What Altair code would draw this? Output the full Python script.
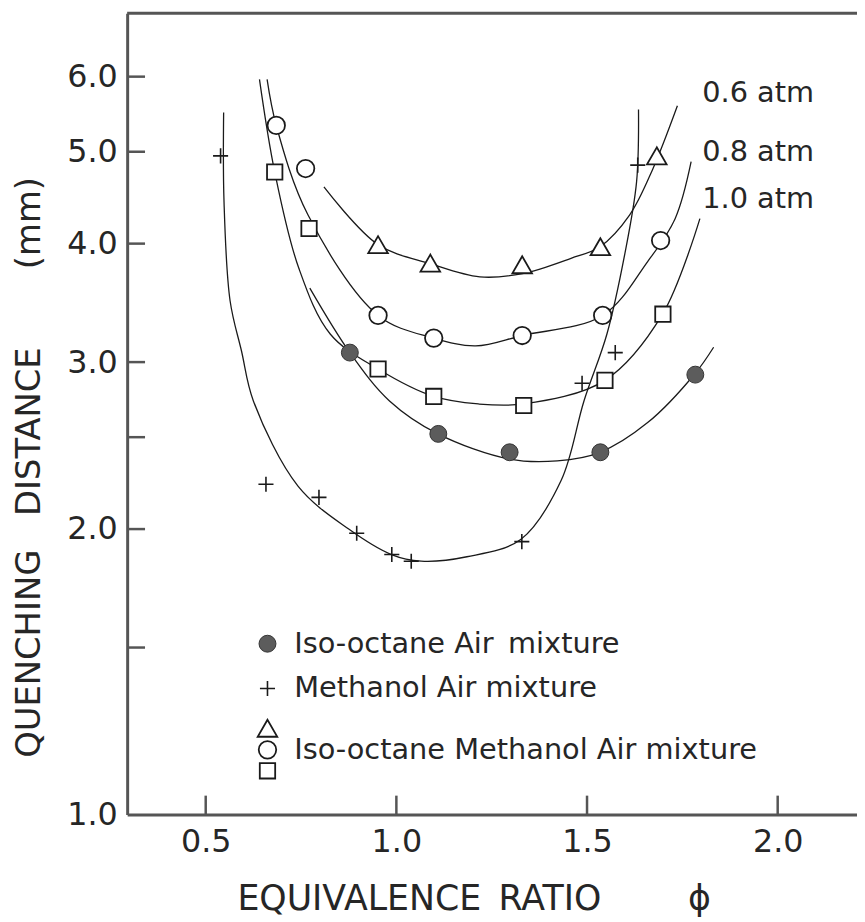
import altair as alt
import pandas as pd

# ---------------- data ----------------
# measured points
iso_x = [0.878, 1.110, 1.297, 1.535, 1.784]
iso_y = [3.07, 2.52, 2.41, 2.41, 2.91]
meth_x = [0.539, 0.658, 0.797, 0.896, 0.988, 1.039, 1.329, 1.487, 1.574, 1.633]
meth_y = [4.95, 2.23, 2.16, 1.98, 1.88, 1.85, 1.94, 2.85, 3.07, 4.84]
tri_x = [0.952, 1.089, 1.330, 1.535, 1.683]
tri_y = [3.99, 3.815, 3.80, 3.97, 4.95]
circ_x = [0.685, 0.762, 0.952, 1.098, 1.330, 1.541, 1.693]
circ_y = [5.33, 4.80, 3.36, 3.18, 3.20, 3.36, 4.03]
sq_x = [0.681, 0.771, 0.952, 1.098, 1.334, 1.547, 1.699]
sq_y = [4.76, 4.15, 2.95, 2.76, 2.70, 2.87, 3.37]

# hand-drawn fitted curves
meth_cx = [0.547, 0.548, 0.564, 0.594, 0.625, 0.742, 0.875, 0.987, 1.065, 1.185,
           1.326, 1.432, 1.492, 1.552, 1.599, 1.630, 1.635]
meth_cy = [5.50, 4.43, 3.48, 3.08, 2.73, 2.22, 2.00, 1.88, 1.85, 1.87,
           1.95, 2.25, 2.73, 3.21, 3.90, 4.65, 5.54]
iso_cx = [0.773, 0.878, 0.982, 1.109, 1.297, 1.422, 1.534, 1.659, 1.784, 1.832]
iso_cy = [3.59, 3.07, 2.73, 2.52, 2.37, 2.36, 2.41, 2.59, 2.92, 3.11]
tri_cx = [0.810, 0.952, 1.089, 1.219, 1.331, 1.458, 1.534, 1.612, 1.672, 1.737]
tri_cy = [4.59, 3.99, 3.81, 3.69, 3.72, 3.86, 3.97, 4.29, 4.79, 5.59]
circ_cx = [0.661, 0.685, 0.768, 0.952, 1.098, 1.208, 1.330, 1.541, 1.659, 1.731, 1.773]
circ_cy = [5.96, 5.33, 4.29, 3.36, 3.18, 3.12, 3.20, 3.36, 3.83, 4.25, 4.88]
sq_cx = [0.641, 0.681, 0.744, 0.827, 0.952, 1.098, 1.215, 1.333, 1.547, 1.698, 1.796]
sq_cy = [5.96, 4.76, 3.77, 3.21, 2.95, 2.76, 2.71, 2.71, 2.87, 3.37, 4.25]

x_tick_values = [0.5, 1.0, 1.5, 2.0]
y_label_values = [1.0, 2.0, 3.0, 4.0, 5.0, 6.0]
y_tick_values = [1.5, 2.0, 2.5, 3.0, 4.0, 5.0, 6.0]

pressure_labels = ["0.6 atm", "0.8 atm", "1.0 atm"]
legend_labels = ["Iso-octane Air\u2002mixture", "Methanol Air mixture",
                 "Iso-octane Methanol Air mixture"]

# ---------------- layout constants ----------------
W, H = 735, 807
FONT = "DejaVu Sans"
INK = "#262626"
FRAME = "#555555"

xs = alt.Scale(domain=[0.294, 2.208], nice=False, zero=False)
ys = alt.Scale(type="log", domain=[1.0, 7.0], nice=False)

x_axis = alt.Axis(values=x_tick_values, format=".1f", grid=False, ticks=False, tickSize=0,
                  labelFont=FONT, labelFontSize=32, labelColor=INK, labelPadding=12,
                  domain=True, domainColor=FRAME, domainWidth=3,
                  title="EQUIVALENCE\u2002RATIO\u2003\u2003\u2002\u03d5",
                  titleFont=FONT, titleFontSize=35, titleFontWeight="normal",
                  titleColor=INK, titleX=349, titleY=96, titleBaseline="alphabetic",
                  titleAlign="center")
y_axis = alt.Axis(values=y_label_values, format=".1f", grid=False, ticks=False, tickSize=0,
                  labelFont=FONT, labelFontSize=32, labelColor=INK, labelPadding=10,
                  domain=True, domainColor=FRAME, domainWidth=3,
                  title="QUENCHING\u2002\u2002DISTANCE\u2003\u2003 (mm)",
                  titleFont=FONT, titleFontSize=34, titleFontWeight="normal",
                  titleColor=INK, titleAngle=270, titleX=-88, titleY=457,
                  titleAlign="center", titleBaseline="alphabetic")


def curve_df(name, xv, yv):
    return pd.DataFrame({"s": name, "i": range(len(xv)), "x": xv, "y": yv})


curves = pd.concat([
    curve_df("meth", meth_cx, meth_cy),
    curve_df("iso", iso_cx, iso_cy),
    curve_df("tri", tri_cx, tri_cy),
    curve_df("circ", circ_cx, circ_cy),
    curve_df("sq", sq_cx, sq_cy),
])

base_x = alt.X("x:Q", scale=xs, axis=x_axis)
base_y = alt.Y("y:Q", scale=ys, axis=y_axis)

lines = alt.Chart(curves).mark_line(
    interpolate="catmull-rom", color="#1a1a1a", strokeWidth=1.3, clip=True
).encode(x=base_x, y=base_y, detail="s:N", order="i:Q")

PLUS = "M-1,0L1,0M0,-1L0,1"


def pts(xv, yv, **kw):
    return alt.Chart(pd.DataFrame({"x": xv, "y": yv})).mark_point(**kw).encode(
        x=alt.X("x:Q", scale=xs), y=alt.Y("y:Q", scale=ys))


STY = {
    "iso": dict(shape="circle", filled=True, size=290, fill="#5c5c5c",
                stroke="#333333", strokeWidth=1, opacity=1),
    "meth": dict(shape=PLUS, size=230, stroke="#1a1a1a", strokeWidth=1.6,
                 filled=False, opacity=1),
    "tri": dict(shape="triangle-up", size=390, filled=True, fill="white",
                stroke="#1a1a1a", strokeWidth=1.8, opacity=1),
    "circ": dict(shape="circle", size=310, filled=True, fill="white",
                 stroke="#1a1a1a", strokeWidth=1.8, opacity=1),
    "sq": dict(shape="square", size=240, filled=True, fill="white",
               stroke="#1a1a1a", strokeWidth=1.8, opacity=1),
}

p_iso = pts(iso_x, iso_y, **STY["iso"])
p_meth = pts(meth_x, meth_y, **STY["meth"])
p_tri = pts(tri_x, tri_y, **STY["tri"])
p_circ = pts(circ_x, circ_y, **STY["circ"])
p_sq = pts(sq_x, sq_y, **STY["sq"])

# frame pieces and inward ticks
top_rule = alt.Chart(pd.DataFrame({"a": [0]})).mark_rule(
    color=FRAME, strokeWidth=3).encode(x=alt.value(0), x2=alt.value(W), y=alt.value(0))
yticks = alt.Chart(pd.DataFrame({"y": y_tick_values})).mark_rule(
    color=FRAME, strokeWidth=2.5).encode(
    y=alt.Y("y:Q", scale=ys), x=alt.value(0), x2=alt.value(18))
xticks = alt.Chart(pd.DataFrame({"x": x_tick_values})).mark_rule(
    color=FRAME, strokeWidth=2.5).encode(
    x=alt.X("x:Q", scale=xs), y=alt.value(H), y2=alt.value(H - 19))

# pressure annotations
press = alt.Chart(pd.DataFrame({"t": pressure_labels, "x": [1.802] * 3,
                                "y": [5.77, 4.99, 4.46]})).mark_text(
    align="left", baseline="middle", font=FONT, fontSize=29, color=INK).encode(
    x=alt.X("x:Q", scale=xs), y=alt.Y("y:Q", scale=ys), text="t:N")

# legend (drawn inside the plot)
LX, TX = 0.662, 0.732
leg_text = alt.Chart(pd.DataFrame({"t": legend_labels, "x": [TX] * 3,
                                   "y": [1.514, 1.358, 1.170]})).mark_text(
    align="left", baseline="middle", font=FONT, fontSize=29, color=INK).encode(
    x=alt.X("x:Q", scale=xs), y=alt.Y("y:Q", scale=ys), text="t:N")
l_iso = pts([LX], [1.514], **STY["iso"])
l_meth = pts([LX], [1.358], **STY["meth"])
l_tri = pts([LX], [1.233], **STY["tri"])
l_circ = pts([LX], [1.170], **STY["circ"])
l_sq = pts([LX], [1.112], **STY["sq"])

chart = alt.layer(
    lines, top_rule, yticks, xticks,
    p_iso, p_meth, p_tri, p_circ, p_sq,
    press, leg_text, l_iso, l_meth, l_tri, l_circ, l_sq,
).properties(
    width=W, height=H,
    autosize=alt.AutoSizeParams(type="none"),
    padding={"left": 120, "top": 2, "right": 0, "bottom": 100},
    background="white",
).configure_view(strokeWidth=0)

chart.save("out.html", embed_options={"renderer": "svg", "actions": False})
